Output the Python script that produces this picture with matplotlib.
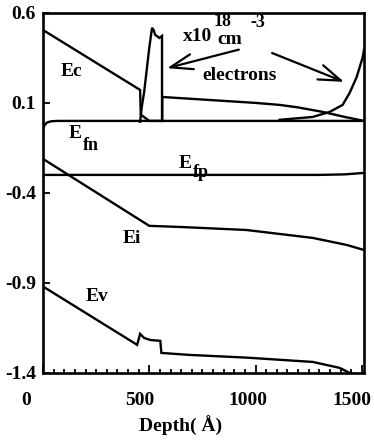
import numpy as np
import matplotlib.pyplot as plt
from matplotlib.transforms import ScaledTranslation

# band edges (eV) vs depth (Angstrom)
ec_x = [0, 457, 460, 500, 561, 561, 800, 1000, 1113, 1200, 1316, 1420, 1510]
ec_y = [0.505, 0.172, 0.035, 0.0, 0.0, 0.133, 0.115, 0.10, 0.089, 0.075, 0.05, 0.022, 0.0]

efn_x = [0, 8, 20, 40, 70, 1510]
efn_y = [-0.045, -0.022, -0.008, -0.002, 0.0, 0.0]

efp_x = [0, 1300, 1420, 1510]
efp_y = [-0.30, -0.30, -0.297, -0.289]

ei_x = [0, 500, 641, 736, 957, 1269, 1429, 1510]
ei_y = [-0.211, -0.583, -0.589, -0.594, -0.606, -0.65, -0.689, -0.717]

ev_x = [0, 443, 457, 476, 505, 552, 557, 689, 957, 1269, 1396, 1443, 1510]
ev_y = [-0.92, -1.244, -1.183, -1.206, -1.217, -1.222, -1.289, -1.30, -1.315, -1.339, -1.372, -1.40, -1.42]

# electron density (x1e18 cm^-3)
n1_x = [457, 465, 476, 500, 513, 520, 528, 547, 560, 560]
n1_y = [-0.005, 0.08, 0.161, 0.406, 0.517, 0.506, 0.478, 0.461, 0.472, 0.0]

n2_x = [1113, 1269, 1349, 1410, 1443, 1476, 1505, 1510]
n2_y = [0.006, 0.022, 0.05, 0.089, 0.156, 0.244, 0.356, 0.394]

xticks = [0, 500, 1000, 1500]
yticks = [0.6, 0.1, -0.4, -0.9, -1.4]

plt.rcParams['font.family'] = ['Liberation Serif', 'DejaVu Serif']
plt.rcParams['font.weight'] = 'bold'

fig = plt.figure(figsize=(3.74, 4.45), dpi=100)
ax = fig.add_axes([0.115, 0.162, 0.858, 0.809])

lw = 1.7
for xs, ys in [(ec_x, ec_y), (efn_x, efn_y), (efp_x, efp_y), (ei_x, ei_y),
               (ev_x, ev_y), (n1_x, n1_y), (n2_x, n2_y)]:
    ax.plot(xs, ys, color='black', lw=lw, solid_joinstyle='miter')

ax.set_xlim(0, 1510)
ax.set_ylim(-1.4, 0.6)
for s in ax.spines.values():
    s.set_linewidth(1.9)

ax.set_xticks(xticks)
ax.set_xticklabels([str(t) for t in xticks], fontsize=14, fontweight='bold')
ax.set_xticks(np.arange(0, 1510, 50), minor=True)
ax.set_yticks(yticks)
ax.set_yticklabels([f"{t:g}" for t in yticks], fontsize=14, fontweight='bold')
ax.tick_params(axis='x', which='major', direction='in', length=6, width=1.3, pad=14)
ax.tick_params(axis='x', which='minor', direction='in', length=3, width=1.3)
ax.tick_params(axis='y', direction='in', length=5, width=1.3, pad=5)

# labels in the original sit a bit left of their ticks
shifts = [-17, -9, -8, -10]
for lab, dx in zip(ax.get_xticklabels(), shifts):
    lab.set_transform(lab.get_transform() + ScaledTranslation(dx / 100, 0, fig.dpi_scale_trans))

fig.text(181 / 374, 1 - 426 / 445, "Depth( Å)", ha='center', va='center',
         fontsize=14, fontweight='bold')

kw = dict(ha='center', va='center', fontweight='bold')
ax.text(132, 0.272, "Ec", fontsize=14, **kw)
ax.text(151, -0.072, "E", fontsize=14, **kw)
ax.text(226, -0.135, "fn", fontsize=13, **kw)
ax.text(670, -0.239, "E", fontsize=14, **kw)
ax.text(745, -0.285, "fp", fontsize=13, **kw)
ax.text(420, -0.656, "Ei", fontsize=14, **kw)
ax.text(255, -0.978, "Ev", fontsize=14, **kw)
ax.text(726, 0.467, "x10", fontsize=14, **kw)
ax.text(843, 0.506, "18", fontsize=13, ha='center', va='bottom', fontweight='bold')
ax.text(880, 0.500, "cm", fontsize=14, ha='center', va='top', fontweight='bold')
ax.text(1012, 0.545, "-3", fontsize=13, **kw)
ax.text(925, 0.25, "electrons", fontsize=14, **kw)

arrow = dict(arrowstyle='->,head_length=1.6,head_width=0.55', lw=1.6, color='black')
ax.annotate("", xy=(571, 0.289), xytext=(934, 0.40), arrowprops=arrow)
ax.annotate("", xy=(1429, 0.211), xytext=(1066, 0.383), arrowprops=arrow)

fig.savefig("out.png", dpi=100)
